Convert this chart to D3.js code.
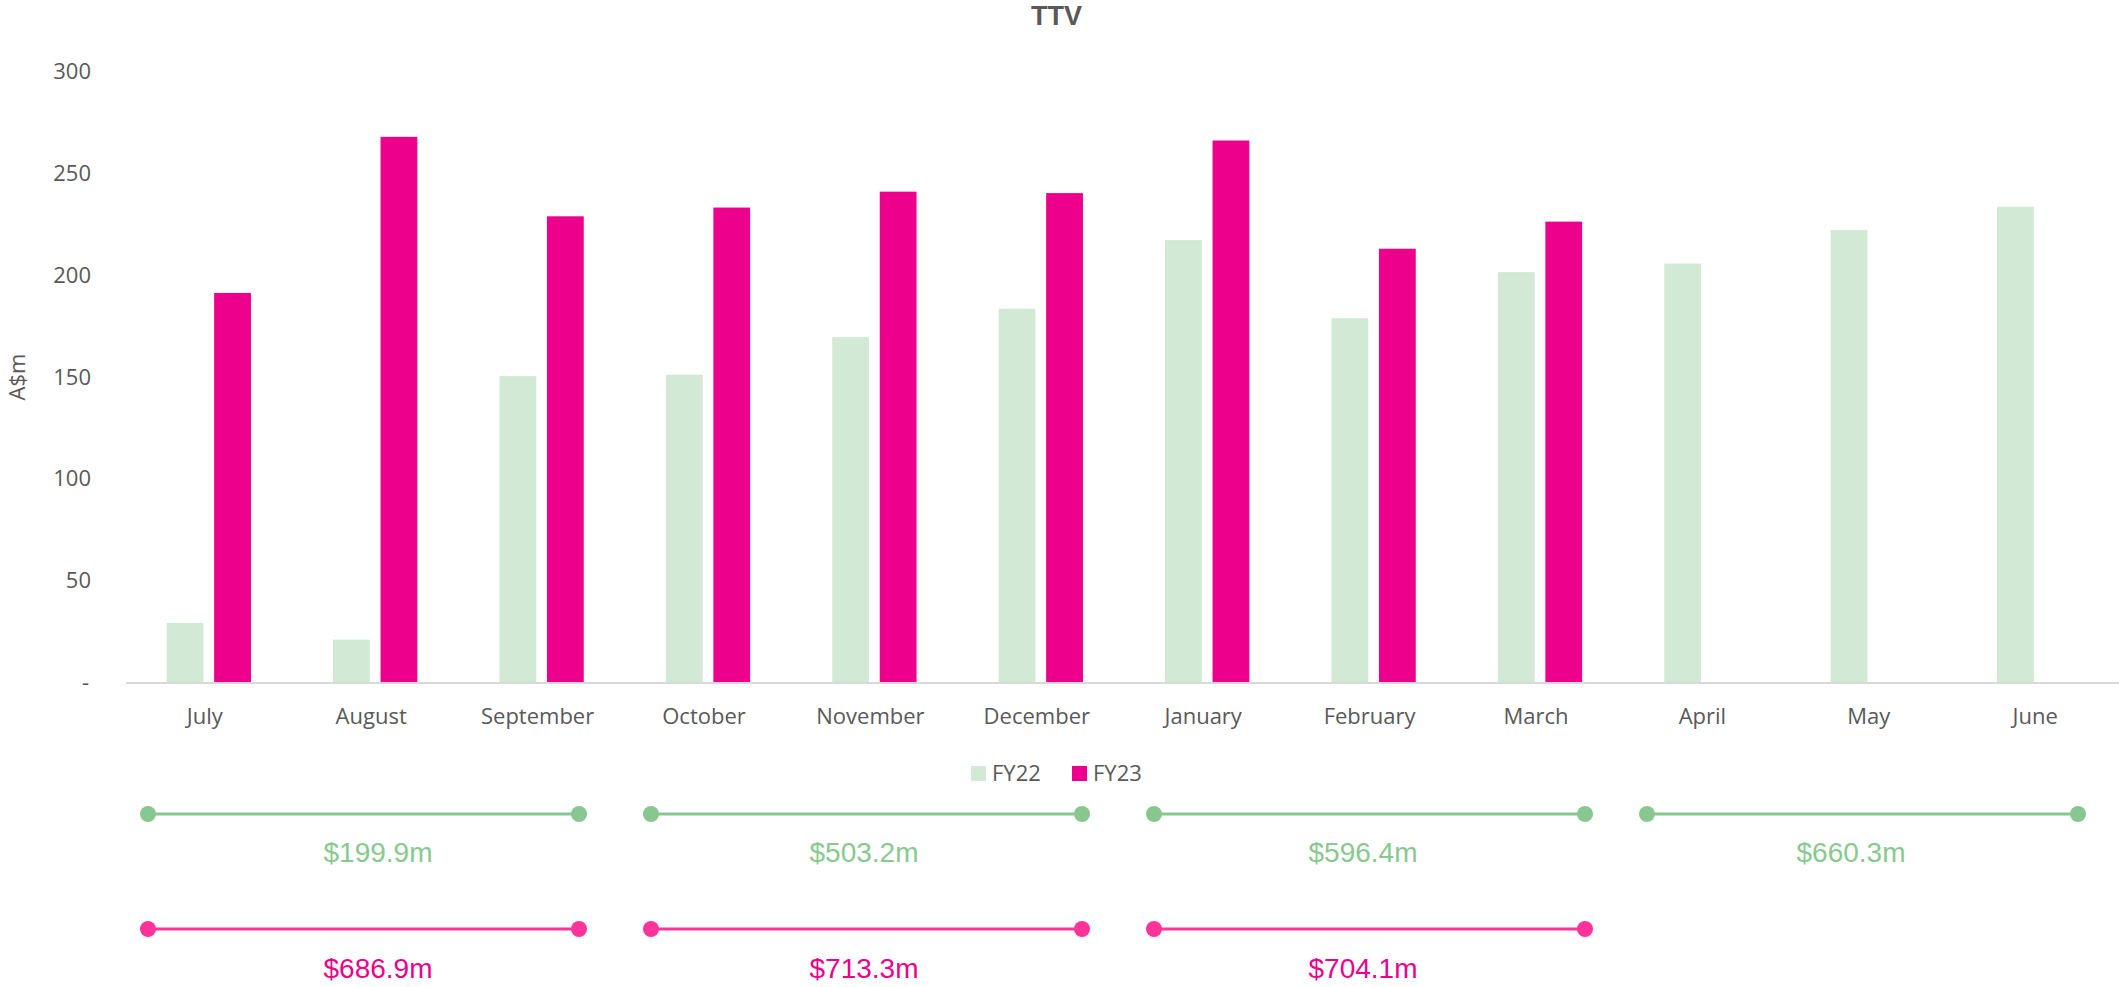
<!DOCTYPE html>
<html>
<head>
<meta charset="utf-8">
<script src="https://cdn.jsdelivr.net/npm/d3@7"></script>
<style>
  html, body { margin: 0; padding: 0; background: #fff; }
  svg { display: block; }
</style>
</head>
<body>
<svg id="chart" width="2119" height="987"></svg>
<script>
// ---- data ----
const months = ["July","August","September","October","November","December","January","February","March","April","May","June"];
const seriesNames = ["FY22","FY23"];
const fy22 = [29.0, 20.8, 150.1, 150.8, 169.2, 183.2, 216.8, 178.5, 201.1, 205.3, 221.8, 233.2];
const fy23 = [190.9, 267.5, 228.5, 232.8, 240.6, 239.9, 265.7, 212.6, 225.9, null, null, null];
const yTicks = [0, 50, 100, 150, 200, 250, 300];
const fy22Totals = ["$199.9m", "$503.2m", "$596.4m", "$660.3m"];
const fy23Totals = ["$686.9m", "$713.3m", "$704.1m"];

// ---- layout (not data) ----
const segLeft = [148, 651, 1154, 1647];
const segWidth = 431;
const segTextCenter = [378, 864, 1363, 1851];
const colors = { FY22: "#d2e9d5", FY23: "#ec008c" };
const textGray = "#595959";

const svg = d3.select("#chart");

const x0 = d3.scaleBand().domain(months).range([125.6, 2122.4]).paddingInner(0.4934).paddingOuter(0.2467);
const x1 = d3.scaleBand().domain(seriesNames).range([0, x0.bandwidth()]).paddingInner(0.225);
const y = d3.scaleLinear().domain([0, 300]).range([682, 70.6]);

// title
svg.append("text")
  .attr("x", 1056.5).attr("y", 25)
  .attr("text-anchor", "middle")
  .attr("font-family", "'Liberation Sans', Arial, sans-serif")
  .attr("font-weight", "bold")
  .attr("font-size", 27)
  .attr("fill", textGray)
  .text("TTV");

// y axis
const yAxis = d3.axisLeft(y).tickValues(yTicks).tickSize(0).tickPadding(0)
  .tickFormat(d => d === 0 ? "-" : d3.format("d")(d));
const gy = svg.append("g").attr("transform", "translate(91,0)").call(yAxis);
gy.select(".domain").remove();
gy.selectAll("text")
  .attr("font-family", "'Open Sans', sans-serif")
  .attr("font-size", 22)
  .attr("fill", textGray)
  .attr("dy", "0.35em")
  .attr("x", d => d === 0 ? -2 : 0);

// y title
svg.append("text")
  .attr("transform", "translate(25,377) rotate(-90)")
  .attr("text-anchor", "middle")
  .attr("font-family", "'Open Sans', sans-serif")
  .attr("font-size", 22)
  .attr("fill", textGray)
  .text("A$m");

// bars
const rows = months.map((m, i) => ({ month: m, FY22: fy22[i], FY23: fy23[i] }));
const groups = svg.append("g").selectAll("g").data(rows).join("g")
  .attr("transform", d => `translate(${x0(d.month)},0)`);
groups.selectAll("rect")
  .data(d => seriesNames.filter(s => d[s] != null).map(s => ({ key: s, value: d[s] })))
  .join("rect")
  .attr("x", d => x1(d.key))
  .attr("width", x1.bandwidth())
  .attr("y", d => y(d.value))
  .attr("height", d => y(0) - y(d.value))
  .attr("fill", d => colors[d.key]);

// x axis
const xAxis = d3.axisBottom(x0).tickSize(0).tickPadding(0);
const gx = svg.append("g").attr("transform", `translate(-4,${y(0)})`).call(xAxis);
gx.select(".domain").remove();
svg.append("line")
  .attr("x1", 126).attr("x2", 2119)
  .attr("y1", y(0) + 1).attr("y2", y(0) + 1)
  .attr("stroke", "#d9d9d9").attr("stroke-width", 2);
gx.selectAll("text")
  .attr("font-family", "'Open Sans', sans-serif")
  .attr("font-size", 22)
  .attr("fill", textGray)
  .attr("dy", 0)
  .attr("y", 42);

// legend
const legend = svg.append("g");
const legX = [971, 1072];
seriesNames.forEach((s, i) => {
  legend.append("rect")
    .attr("x", legX[i]).attr("y", 766)
    .attr("width", 15).attr("height", 15)
    .attr("fill", colors[s]);
  legend.append("text")
    .attr("x", legX[i] + 21).attr("y", 781)
    .attr("font-family", "'Open Sans', sans-serif")
    .attr("font-size", 22)
    .attr("fill", textGray)
    .text(s);
});

// quarterly total segments
function drawSegments(totals, lineY, textY, lineColor, textColor) {
  const g = svg.append("g");
  totals.forEach((t, i) => {
    const xl = segLeft[i], xr = segLeft[i] + segWidth;
    g.append("line")
      .attr("x1", xl).attr("x2", xr)
      .attr("y1", lineY).attr("y2", lineY)
      .attr("stroke", lineColor).attr("stroke-width", 3);
    g.append("circle").attr("cx", xl).attr("cy", lineY).attr("r", 8).attr("fill", lineColor);
    g.append("circle").attr("cx", xr).attr("cy", lineY).attr("r", 8).attr("fill", lineColor);
    g.append("text")
      .attr("x", segTextCenter[i]).attr("y", textY)
      .attr("text-anchor", "middle")
      .attr("font-family", "'Liberation Sans', Arial, sans-serif")
      .attr("font-size", 28)
      .attr("fill", textColor)
      .text(t);
  });
}
drawSegments(fy22Totals, 814, 861.5, "#88c78f", "#88c98f");
drawSegments(fy23Totals, 929, 977.5, "#ff3399", "#ec008c");
</script>
</body>
</html>
